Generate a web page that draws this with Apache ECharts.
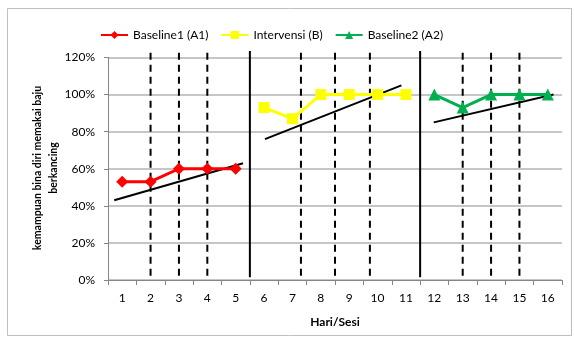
<!DOCTYPE html>
<html><head><meta charset="utf-8">
<script src="https://cdn.jsdelivr.net/npm/echarts@6/dist/echarts.min.js"></script>
<style>html,body{margin:0;padding:0;background:#fff}#c{width:574px;height:340px}</style>
</head><body><div id="c"></div>
<script>
const categories = ['1','2','3','4','5','6','7','8','9','10','11','12','13','14','15','16'];
const seriesNames = ['Baseline1 (A1)', 'Intervensi (B)', 'Baseline2 (A2)'];
const baseline1 = [[1,53],[2,53],[3,60],[4,60],[5,60]];
const intervensi = [[6,93],[7,87],[8,100],[9,100],[10,100],[11,100]];
const baseline2 = [[12,100],[13,93],[14,100],[15,100],[16,100]];
const trendA1 = [[0.72,43],[5.26,63]];
const trendB = [[6.03,76],[10.84,105]];
const trendA2 = [[11.98,85],[16.2,100]];
const phaseLines = [5.5, 11.5];
const dashedLines = [2, 3, 4, 7.3, 8.5, 9.73, 13, 14, 15];
const yTicks = [0, 20, 40, 60, 80, 100, 120];
const yName1 = 'kemampuan bina diri memakai baju';
const yName2 = 'berkancing';

const FONT = 'Lato';
const series = [];
function vline(x, solid) {
  return {
    type: 'line', xAxisIndex: 1, data: [[x, solid ? 123.5 : 122.5], [x, solid ? 1.5 : 0]],
    symbol: 'none', clip: false, silent: true, z: 1,
    lineStyle: { color: '#000', width: 2, type: solid ? 'solid' : [7, 5] }
  };
}
phaseLines.forEach(x => series.push(vline(x, true)));
dashedLines.forEach(x => series.push(vline(x, false)));
[trendA1, trendB, trendA2].forEach(t => series.push({
  type: 'line', xAxisIndex: 1, data: t, symbol: 'none', clip: false, silent: true, z: 3,
  lineStyle: { color: '#000', width: 2 }
}));
const cfg = [
  { name: seriesNames[0], data: baseline1, color: '#ff0000', symbol: 'diamond', size: 12 },
  { name: seriesNames[1], data: intervensi, color: '#ffff00', symbol: 'rect', size: 11 },
  { name: seriesNames[2], data: baseline2, color: '#00b050', symbol: 'triangle', size: 12 }
];
cfg.forEach(c => series.push({
  type: 'line', name: c.name, xAxisIndex: 1, data: c.data, symbol: c.symbol, symbolSize: c.size,
  clip: false, z: 4,
  itemStyle: { color: c.color }, lineStyle: { color: c.color, width: 3 }
}));

const chart = echarts.init(document.getElementById('c'), null, { renderer: 'canvas' });
chart.setOption({
  animation: false,
  textStyle: { fontFamily: FONT },
  graphic: [
    { type: 'rect', shape: { x: 7.5, y: 8.5, width: 564, height: 327 },
      style: { fill: 'none', stroke: '#bfbfbf', lineWidth: 1 }, silent: true },
    { type: 'text', x: 38, y: 168, rotation: Math.PI / 2,
      style: { text: yName1, font: 'bold 10.5px ' + FONT, fill: '#000', align: 'center', verticalAlign: 'middle' } },
    { type: 'text', x: 54, y: 168, rotation: Math.PI / 2,
      style: { text: yName2, font: 'bold 10.5px ' + FONT, fill: '#000', align: 'center', verticalAlign: 'middle' } }
  ],
  legend: {
    data: seriesNames, top: 24, left: 95, itemWidth: 27, itemHeight: 10, itemGap: 12,
    textStyle: { fontFamily: FONT, fontSize: 12, color: '#000' }
  },
  grid: { left: 108, right: 12, top: 57.5, bottom: 60 },
  xAxis: [
    { type: 'category', data: categories, boundaryGap: true,
      name: 'Hari/Sesi', nameLocation: 'middle', nameGap: 36,
      nameTextStyle: { fontFamily: FONT, fontSize: 12, fontWeight: 'bold', color: '#000' },
      axisLine: { lineStyle: { color: '#868686' } },
      axisTick: { show: true, alignWithLabel: false, length: 5, lineStyle: { color: '#868686' } },
      axisLabel: { fontFamily: FONT, fontSize: 12, color: '#000', margin: 12 },
      splitLine: { show: false } },
    { type: 'value', min: 0.5, max: 16.5, show: false }
  ],
  yAxis: {
    type: 'value', min: yTicks[0], max: yTicks[yTicks.length - 1], interval: 20,
    axisLine: { show: true, lineStyle: { color: '#868686' } },
    axisTick: { show: true, length: 4, lineStyle: { color: '#868686' } },
    axisLabel: { formatter: '{value}%', fontFamily: FONT, fontSize: 12, color: '#000', margin: 13 },
    splitLine: { lineStyle: { color: '#b3b3b3', width: 1.5 } }
  },
  series: series
});
</script></body></html>
